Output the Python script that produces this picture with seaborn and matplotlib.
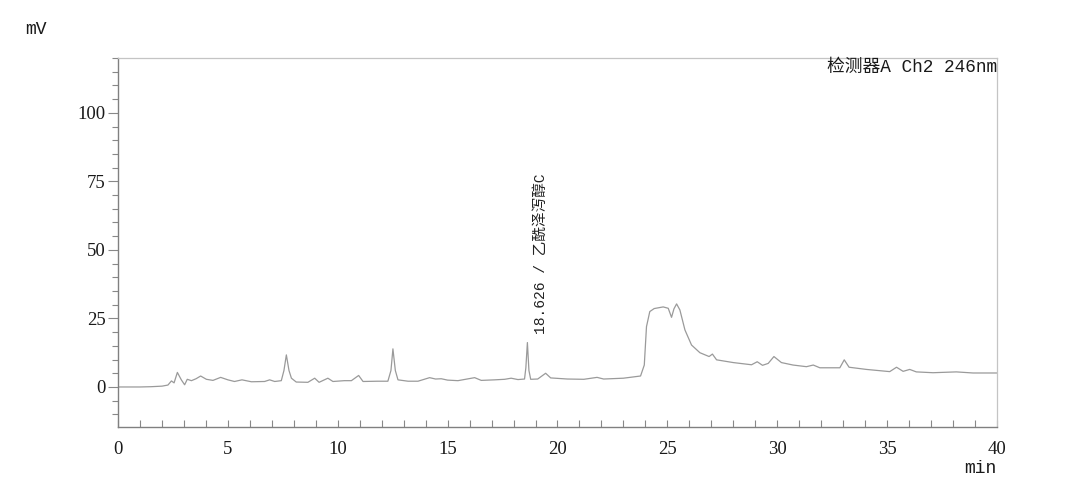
import numpy as np
import pandas as pd
import matplotlib
matplotlib.use('Agg')
import matplotlib.pyplot as plt
from matplotlib.ticker import MultipleLocator
import seaborn as sns

# Cromatograma (tiempo en min, señal en mV)
tiempo_min = [
    0.0, 1.0, 1.5, 2.0, 2.27, 2.43, 2.55, 2.7, 2.88, 3.03, 3.15, 3.34, 3.55, 3.76,
    4.02, 4.32, 4.67, 5.0, 5.3, 5.64, 6.07, 6.67, 6.9, 7.13, 7.43, 7.55, 7.66, 7.78,
    7.89, 8.11, 8.64, 8.95, 9.15, 9.55, 9.78, 10.3, 10.62, 10.95, 11.15, 11.8, 12.28,
    12.42, 12.51, 12.62, 12.74, 13.2, 13.65, 14.18, 14.45, 14.71, 15.0, 15.47, 16.23,
    16.53, 17.14, 17.6, 17.89, 18.2, 18.5, 18.56, 18.63, 18.7, 18.78, 19.1, 19.46,
    19.69, 20.45, 21.2, 21.8, 22.1, 23.0, 23.78, 23.95, 24.05, 24.2, 24.4, 24.81,
    25.04, 25.19, 25.3, 25.42, 25.57, 25.8, 26.1, 26.48, 26.9, 27.05, 27.24, 28.0,
    28.83, 29.09, 29.33, 29.59, 29.85, 30.19, 30.72, 31.33, 31.64, 31.94, 32.85,
    33.05, 33.27, 34.06, 35.12, 35.43, 35.73, 36.03, 36.33, 37.09, 38.15, 38.91, 40.0,
]
senal_mv = [
    0.0, 0.0, 0.1, 0.3, 0.7, 2.2, 1.5, 5.3, 2.6, 0.8, 2.8, 2.3, 3.0, 4.0,
    2.8, 2.4, 3.5, 2.6, 2.0, 2.6, 1.9, 2.0, 2.6, 2.0, 2.3, 6.0, 11.7, 6.0,
    3.2, 1.8, 1.7, 3.2, 1.7, 3.2, 2.0, 2.3, 2.3, 4.2, 2.0, 2.1, 2.1,
    6.0, 13.9, 6.0, 2.6, 2.1, 2.1, 3.4, 2.9, 3.0, 2.5, 2.3, 3.4,
    2.4, 2.6, 2.8, 3.2, 2.7, 2.9, 7.0, 16.2, 6.0, 2.8, 2.9, 5.0,
    3.3, 2.9, 2.8, 3.5, 2.9, 3.2, 4.0, 8.0, 22.0, 27.5, 28.6, 29.2,
    28.7, 25.4, 28.5, 30.3, 28.1, 20.8, 15.3, 12.5, 11.1, 12.0, 9.9, 8.9,
    8.1, 9.2, 7.9, 8.6, 11.1, 8.9, 8.0, 7.4, 8.0, 7.0, 7.0,
    9.9, 7.2, 6.4, 5.6, 7.2, 5.7, 6.4, 5.5, 5.2, 5.5, 5.1, 5.1,
]

pico_tiempo = 18.626
pico_nombre = '乙酰泽泻醇C'
detector_txt = '检测器A Ch2 246nm'

df = pd.DataFrame({'min': tiempo_min, 'mV': senal_mv})

sns.set_theme(style='white')
plt.rcParams['font.family'] = ['Liberation Mono', 'Noto Sans CJK SC']

fig = plt.figure(figsize=(10.8, 4.86), dpi=100)
ax = fig.add_axes([0.1093, 0.1214, 0.8138, 0.7593])

sns.lineplot(data=df, x='min', y='mV', ax=ax, color='#9a9a9a', linewidth=0.9)

ax.set_xlim(0, 40)
ax.set_ylim(-14.6, 120)
ax.set_xlabel('')
ax.set_ylabel('')

ax.xaxis.set_major_locator(MultipleLocator(5))
ax.xaxis.set_minor_locator(MultipleLocator(1))
ax.yaxis.set_major_locator(MultipleLocator(25))
ax.yaxis.set_minor_locator(MultipleLocator(5))

ax.tick_params(axis='x', which='both', direction='in', length=5, width=0.8,
               color='#888888', pad=10, labelsize=13.5, labelcolor='#1a1a1a', bottom=True)
ax.tick_params(axis='y', which='major', direction='out', length=7, width=0.8,
               color='#888888', pad=2, labelsize=13.5, labelcolor='#1a1a1a', left=True)
ax.tick_params(axis='y', which='minor', direction='out', length=4, width=0.8,
               color='#888888', left=True)
for lab in ax.get_xticklabels() + ax.get_yticklabels():
    lab.set_family('Liberation Serif')

for lado in ['left', 'bottom']:
    ax.spines[lado].set_color('#808080')
    ax.spines[lado].set_linewidth(1.0)
for lado in ['top', 'right']:
    ax.spines[lado].set_color('#c4c4c4')
    ax.spines[lado].set_linewidth(0.9)

# Etiqueta del pico
ax.text(pico_tiempo + 0.6, 19.5, f'{pico_tiempo:.3f} / {pico_nombre}', rotation=90,
        ha='center', va='bottom', fontsize=10.5, color='#222222')

ax.text(40, 119.5, detector_txt, ha='right', va='top', fontsize=12.8, color='#1a1a1a')

fig.text(0.033, 0.94, 'mV', ha='center', va='center', fontsize=13, color='#1a1a1a')
fig.text(0.923, 0.037, 'min', ha='right', va='center', fontsize=13, color='#1a1a1a')

fig.savefig('out.png', dpi=100, facecolor='white')
